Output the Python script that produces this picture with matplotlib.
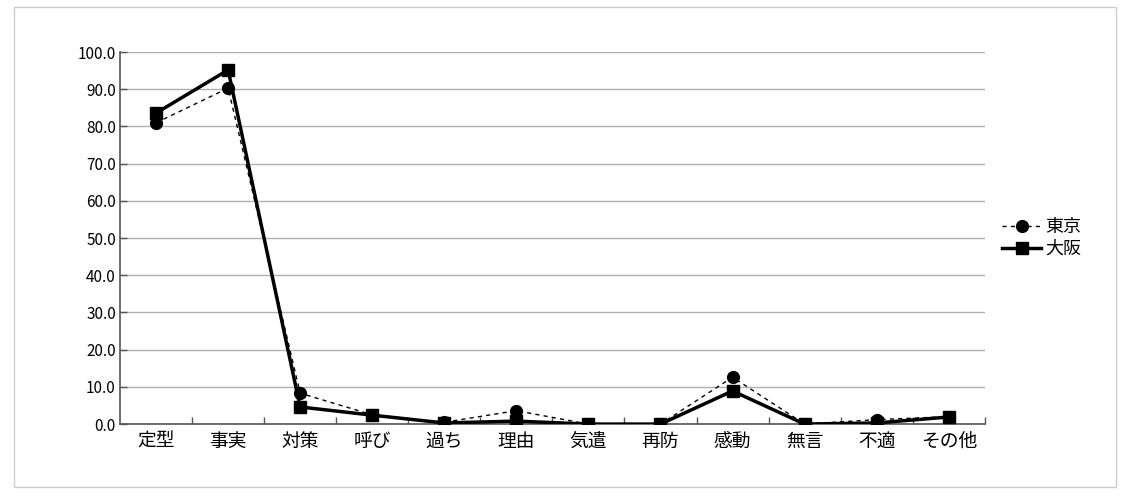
import matplotlib.pyplot as plt
import matplotlib.patches as patches

plt.rcParams['font.family'] = ['Noto Sans CJK JP', 'DejaVu Sans']

categories = ["定型", "事実", "対策", "呼び", "過ち", "理由", "気遣", "再防", "感動", "無言", "不適", "その他"]
tokyo = [81.0, 90.3, 8.3, 2.5, 0.5, 3.6, 0.0, 0.0, 12.6, 0.0, 1.2, 2.0]
osaka = [83.6, 95.2, 4.6, 2.4, 0.3, 0.8, 0.0, 0.0, 8.9, 0.0, 0.3, 1.9]
yticks = [0, 10, 20, 30, 40, 50, 60, 70, 80, 90, 100]

fig = plt.figure(figsize=(11.28, 4.96), dpi=100)
ax = fig.add_axes([0.1064, 0.145, 0.7666, 0.75])

x = range(len(categories))
ax.plot(x, tokyo, color='black', linestyle=(0, (3, 3)), linewidth=1.0,
        marker='o', markersize=8.5, label="東京", zorder=3)
ax.plot(x, osaka, color='black', linestyle='-', linewidth=2.5,
        marker='s', markersize=8.5, label="大阪", zorder=4)

ax.set_xlim(-0.5, len(categories) - 0.5)
ax.set_ylim(0, 100)
ax.set_yticks(yticks)
ax.set_yticklabels([f"{v:.1f}" for v in yticks], fontsize=11)
ax.set_xticks(list(x))
ax.set_xticklabels(categories, fontsize=13.5)
ax.set_xticks([i + 0.5 for i in range(len(categories))], minor=True)
ax.tick_params(axis='x', which='major', length=0, pad=5)
ax.tick_params(axis='x', which='minor', direction='in', length=5, width=1, color='#555555')
ax.tick_params(axis='y', direction='in', length=5, width=1, color='#555555', pad=3)

ax.grid(axis='y', color='#b0b0b0', linewidth=1)
ax.set_axisbelow(True)
for side in ['top', 'right']:
    ax.spines[side].set_visible(False)
for side in ['left', 'bottom']:
    ax.spines[side].set_color('#555555')
    ax.spines[side].set_linewidth(1.2)

ax.legend(loc='center left', bbox_to_anchor=(1.005, 0.5), frameon=False,
          fontsize=13, handlelength=2.2, handletextpad=0.2, borderaxespad=0.3,
          labelspacing=0.2)

fig.patches.append(patches.Rectangle((0.012, 0.018), 0.977, 0.967, transform=fig.transFigure,
                                     fill=False, edgecolor='#cccccc', linewidth=1))

fig.savefig("out.png", dpi=100)
